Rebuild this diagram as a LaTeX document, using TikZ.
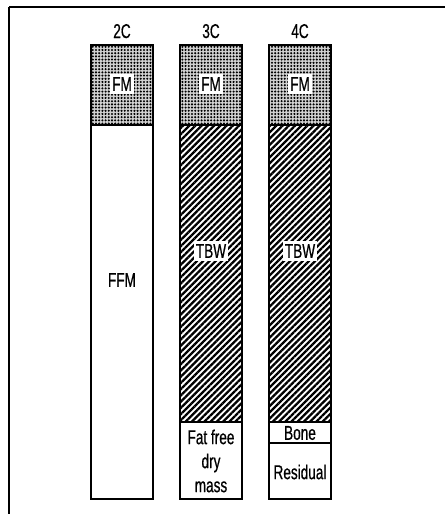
\documentclass[tikz,border=0pt]{standalone}
\usepackage{fontspec}
\setmainfont{Liberation Sans}[FakeStretch=0.68, FakeBold=0.6]
\usepackage{tikz}
\usetikzlibrary{patterns.meta}

\begin{document}
\begin{tikzpicture}[
    x=1pt, y=-1pt,
    font=\fontsize{20}{24}\selectfont,
    seg/.style={draw, line width=1.4pt},
    fatseg/.style={seg, preaction={fill=gray!35},
                   pattern={Dots[distance=3.2pt, radius=1.15pt]},
                   pattern color=black},
    waterseg/.style={seg, pattern={Lines[angle=45, distance=4.4pt, line width=2.3pt]},
                     pattern color=black},
    plainseg/.style={seg, fill=white},
    tag/.style={fill=white, inner sep=2pt, minimum height=20pt},
    head/.style={anchor=base}]
  \useasboundingbox (0,0) rectangle (445,514);
  % frame
  \draw[line width=2pt] (9,7) -- (445,7);
  \draw[line width=1.5pt] (9,7) -- (9,514);
  % 2C
  \draw[fatseg]   (91,45)  rectangle (153,125);
  \draw[plainseg] (91,125) rectangle (153,499);
  % 3C
  \draw[fatseg]   (180,45)  rectangle (242,125);
  \draw[waterseg] (180,125) rectangle (242,422);
  \draw[plainseg] (180,422) rectangle (242,499);
  % 4C
  \draw[fatseg]   (269,45)  rectangle (331,125);
  \draw[waterseg] (269,125) rectangle (331,422);
  \draw[plainseg] (269,422) rectangle (331,443);
  \draw[plainseg] (269,443) rectangle (331,499);
  % headings
  \node[head] (h2) at (122,38) {2C};
  \node[head] (h3) at (211,38) {3C};
  \node[head] (h4) at (300,38) {4C};
  % labels
  \node[tag] (fm2) at (122,84) {FM};
  \node[tag] (fm3) at (211,84) {FM};
  \node[tag] (fm4) at (300,84) {FM};
  \node (ffm) at (122,280) {FFM};
  \node[tag] (tbw3) at (211,251) {TBW};
  \node[tag] (tbw4) at (300,251) {TBW};
  \node[align=center] (ffdm) at (211,461) {Fat free\\dry\\mass};
  \node (bone) at (300,433) {Bone};
  \node (res)  at (300,472) {Residual};
\end{tikzpicture}
\end{document}
